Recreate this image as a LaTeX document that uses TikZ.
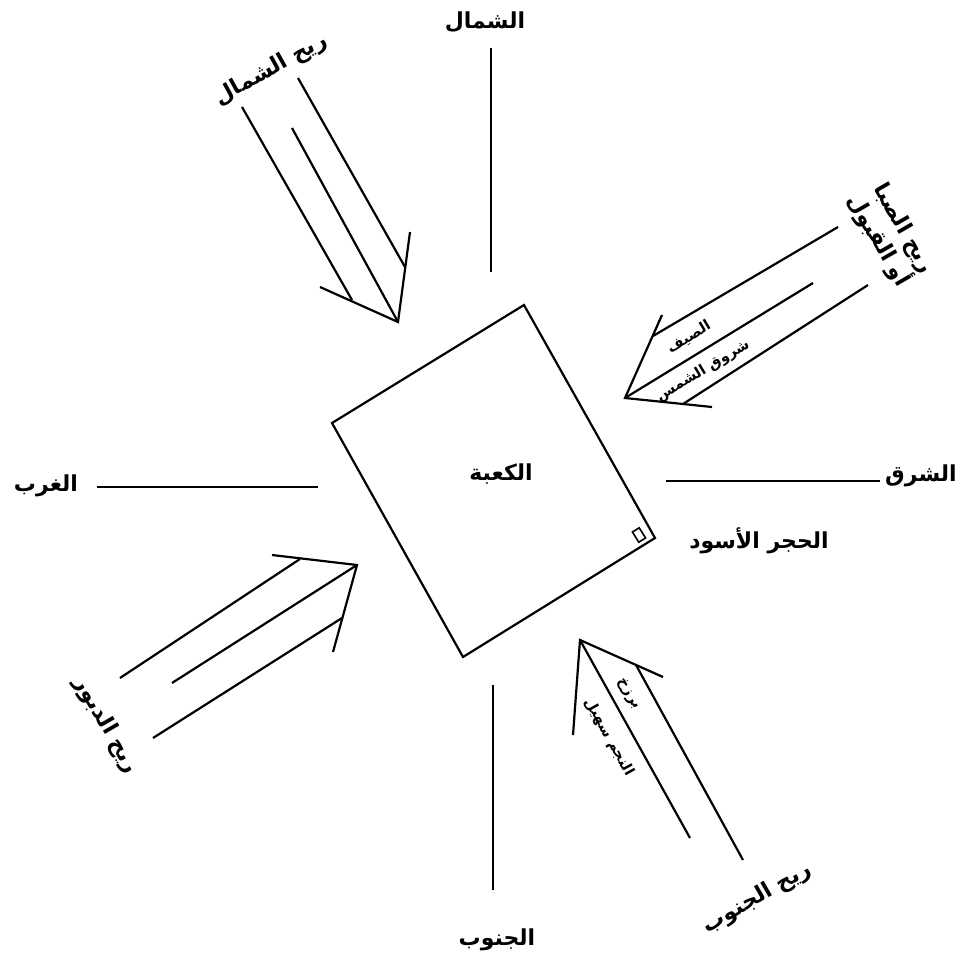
\documentclass[tikz,border=0pt]{standalone}
\usepackage{fontspec}
\newfontfamily\arabicfont[Script=Arabic]{DejaVu Sans}
\TeXXeTstate=1
\usepackage{tikz}

\begin{document}
\begin{tikzpicture}[x=1pt, y=-1pt, line width=2.2pt,
    lbl/.style={font=\arabicfont\bfseries\fontsize{22}{27}\selectfont, inner sep=1pt},
    inlbl/.style={font=\arabicfont\bfseries\fontsize{14.5}{16}\selectfont, inner sep=0pt}]
\useasboundingbox (0,0) rectangle (963,964);

% the Kaaba
\coordinate (kL) at (332,423);
\coordinate (kB) at (463,657);
\coordinate (kR) at (655,538);
\coordinate (kT) at (524,305);
\draw (kL) -- (kB) -- (kR) -- (kT) -- cycle;
\node[lbl] (kaaba) at (501,474) {\beginR الكعبة\endR};
\node[draw, line width=1.6pt, minimum width=8pt, minimum height=12pt, inner sep=0pt, rotate=32] (stone) at (639,535) {};
\node[lbl] (stonelbl) at (759,541) {\beginR الحجر الأسود\endR};

% the four directions
\node[lbl] (north) at (485,22) {\beginR الشمال\endR};
\node[lbl] (east) at (921,476) {\beginR الشرق\endR};
\node[lbl] (west) at (46,486) {\beginR الغرب\endR};
\node[lbl] (south) at (497,940) {\beginR الجنوب\endR};
\coordinate (nA) at (491,48);  \coordinate (nB) at (491,272);
\coordinate (eA) at (666,481); \coordinate (eB) at (880,481);
\coordinate (wA) at (97,487);  \coordinate (wB) at (318,487);
\coordinate (sA) at (493,685); \coordinate (sB) at (493,890);
\draw (nA) -- (nB);
\draw (eA) -- (eB);
\draw (wA) -- (wB);
\draw (sA) -- (sB);

% north wind
\coordinate (nwTip) at (398,322);
\draw (242,107) coordinate (nw1) -- (352,300) coordinate (nw1e);
\draw (292,128) coordinate (nw2) -- (nwTip);
\draw (298,78) coordinate (nw3) -- (405,267) coordinate (nw3e);
\draw (320,287) coordinate (nwBa) -- (nwTip) -- (410,232) coordinate (nwBb);
\node[lbl, rotate=29] (nwlbl) at (271,70) {\beginR ريح الشمال\endR};

% east wind
\coordinate (neTip) at (625,398);
\draw (838,227) coordinate (ne1) -- (653,336) coordinate (ne1e);
\draw (813,283) coordinate (ne2) -- (neTip);
\draw (868,285) coordinate (ne3) -- (683,404) coordinate (ne3e);
\draw (662,315) coordinate (neBa) -- (neTip) -- (712,407) coordinate (neBb);
\node[inlbl, rotate=31] (summer) at (689,337) {\beginR الصيف\endR};
\node[inlbl, rotate=31] (sunrise) at (703,371) {\beginR شروق الشمس\endR};
\node[lbl, rotate=-60, align=right] (nelbl) at (890,234) {\beginR ريح الصبا\endR\\\beginR أو القبول\endR};

% west wind
\coordinate (swTip) at (357,565);
\draw (120,678) coordinate (sw1) -- (300,559) coordinate (sw1e);
\draw (172,683) coordinate (sw2) -- (swTip);
\draw (153,738) coordinate (sw3) -- (342,618) coordinate (sw3e);
\draw (272,555) coordinate (swBa) -- (swTip) -- (333,652) coordinate (swBb);
\node[lbl, rotate=-60] (swlbl) at (106,725) {\beginR ريح الدبور\endR};

% south wind
\coordinate (seTip) at (580,640);
\draw (seTip) -- (690,838) coordinate (se2);
\draw (636,665) coordinate (se3e) -- (743,860) coordinate (se3);
\draw (573,735) coordinate (seBa) -- (seTip) -- (663,677) coordinate (seBb);
\node[inlbl, rotate=-61] (barzakh) at (629,694) {\beginR برزخ\endR};
\node[inlbl, rotate=-61] (suhail) at (609,737) {\beginR النجم سهيل\endR};
\node[lbl, rotate=30] (selbl) at (757,898) {\beginR ريح الجنوب\endR};
\end{tikzpicture}
\end{document}
